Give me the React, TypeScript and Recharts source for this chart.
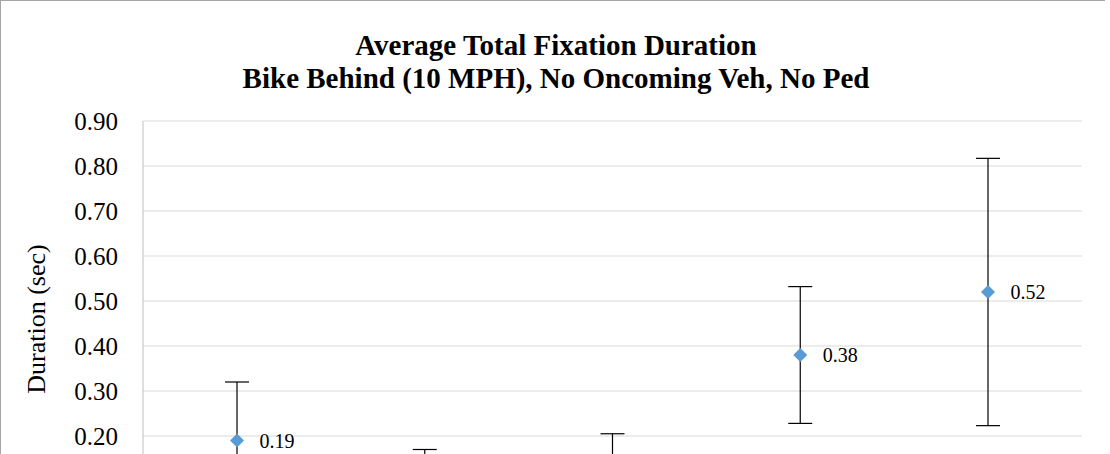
import React from 'react';
import { ComposedChart, Scatter, XAxis, YAxis, CartesianGrid, ErrorBar, LabelList } from 'recharts';

// the lower part of the chart is cropped away
const categories = ['Condition 1', 'Condition 2', 'Condition 3', 'Condition 4', 'Condition 5'];
const durations = [0.19, 0.11, 0.12, 0.38, 0.52];
const errors = [0.13, 0.06, 0.085, 0.152, 0.297];
const yTicks = [0, 0.1, 0.2, 0.3, 0.4, 0.5, 0.6, 0.7, 0.8, 0.9];

const data = categories.map((name, i) => ({ name, value: durations[i], err: errors[i] }));

const serif = '"Liberation Serif", "Times New Roman", serif';

const Diamond = (props: any) => {
  const { cx, cy } = props;
  const r = 7;
  return <path d={`M${cx},${cy - r}L${cx + r},${cy}L${cx},${cy + r}L${cx - r},${cy}Z`} fill="#5b9bd5" />;
};

const App: React.FC = () => {
  return (
    <div style={{ position: 'fixed', left: 0, top: 0, width: 1110, height: 454, overflow: 'hidden', background: '#fff' }}>
      <div style={{ position: 'absolute', left: 0, top: 0, width: 1105, height: 1, background: '#a6a6a6' }} />
      <div style={{ position: 'absolute', left: 0, top: 0, width: 1, height: 454, background: '#a6a6a6' }} />
      <div
        style={{
          position: 'absolute',
          left: 0,
          top: 29,
          width: 1112,
          textAlign: 'center',
          fontFamily: serif,
          fontWeight: 'bold',
          fontSize: 29,
          lineHeight: '33px',
          color: '#000',
        }}
      >
        Average Total Fixation Duration
        <br />
        Bike Behind (10 MPH), No Oncoming Veh, No Ped
      </div>
      <div
        style={{
          position: 'absolute',
          left: 37,
          top: 319,
          transform: 'translate(-50%, -50%) rotate(-90deg)',
          whiteSpace: 'nowrap',
          fontFamily: serif,
          fontSize: 26,
          color: '#000',
        }}
      >
        Duration (sec)
      </div>
      <div style={{ position: 'absolute', left: 0, top: 0 }}>
        <ComposedChart width={1110} height={576} data={data} margin={{ top: 121, right: 28, bottom: 20, left: 0 }}>
          <CartesianGrid vertical={false} stroke="#d9d9d9" strokeWidth={1} />
          {/* category names sit below the crop, so no tick text */}
          <XAxis
            dataKey="name"
            type="category"
            padding={{ left: 94, right: 94 }}
            axisLine={{ stroke: '#bfbfbf' }}
            tickLine={false}
            tick={false}
            height={30}
          />
          <YAxis
            width={143}
            domain={[0, 0.9]}
            ticks={yTicks}
            tickFormatter={(v: number) => v.toFixed(2)}
            axisLine={{ stroke: '#bfbfbf' }}
            tickLine={false}
            tickSize={0}
            tickMargin={25}
            tick={{ fill: '#000', fontFamily: serif, fontSize: 25 }}
          />
          <Scatter dataKey="value" shape={<Diamond />} isAnimationActive={false}>
            <ErrorBar dataKey="err" direction="y" width={12} stroke="#000" strokeWidth={1.2} isAnimationActive={false} />
            <LabelList
              dataKey="value"
              position="right"
              offset={18}
              formatter={(v: any) => Number(v).toFixed(2)}
              style={{ fill: '#000', fontFamily: serif, fontSize: 20 }}
            />
          </Scatter>
        </ComposedChart>
      </div>
    </div>
  );
};

export default App;
